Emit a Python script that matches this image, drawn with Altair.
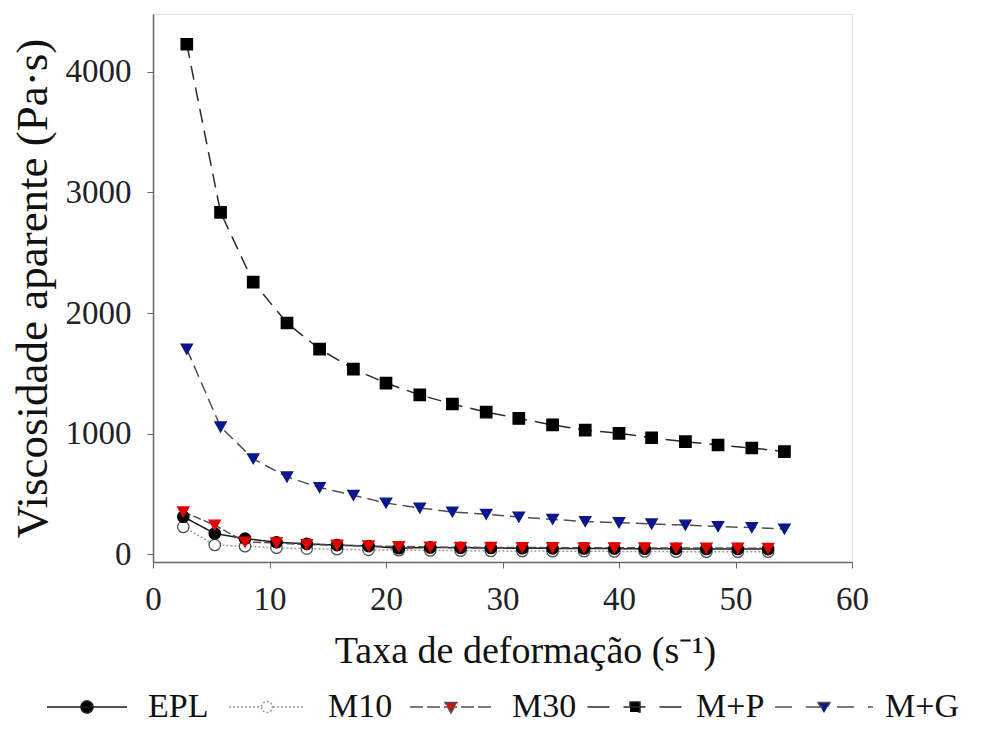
import altair as alt
import pandas as pd

series = ["EPL", "M10", "M30", "M+P", "M+G"]
draw_order = ["M10", "EPL", "M30", "M+G", "M+P"]

# shear rates (s^-1)
x_low = [2.6, 5.3, 7.9, 10.6, 13.2, 15.8, 18.5, 21.1, 23.8, 26.4,
         29.0, 31.7, 34.3, 37.0, 39.6, 42.2, 44.9, 47.5, 50.2, 52.8]
x_high = [2.9, 5.8, 8.6, 11.5, 14.3, 17.2, 20.0, 22.9, 25.7, 28.6,
          31.4, 34.3, 37.1, 40.0, 42.8, 45.7, 48.5, 51.4, 54.2]

# apparent viscosity (Pa.s)
epl = [310, 170, 128, 98, 85, 74, 66, 48, 55, 52, 50, 48, 47, 46, 45, 44, 43, 42, 42, 41]
m10 = [225, 75, 65, 52, 45, 40, 35, 32, 30, 28, 26, 25, 24, 23, 22, 21, 20, 20, 19, 19]
m30 = [350, 240, 100, 92, 78, 74, 68, 62, 58, 56, 55, 54, 53, 52, 52, 51, 50, 50, 49, 48]
mp = [4230, 2835, 2257, 1917, 1701, 1535, 1419, 1320, 1245, 1178,
      1125, 1071, 1029, 1002, 965, 932, 905, 880, 850]
mg = [1700, 1055, 790, 640, 552, 488, 423, 382, 349, 330,
      307, 288, 270, 260, 250, 240, 228, 220, 208]

values = {"EPL": (x_low, epl), "M10": (x_low, m10), "M30": (x_low, m30),
          "M+P": (x_high, mp), "M+G": (x_high, mg)}

rows = []
for s in draw_order:
    xs, ys = values[s]
    for xv, yv in zip(xs, ys):
        rows.append({"serie": s, "marcador": s, "taxa": xv, "visc": yv})
df = pd.DataFrame(rows)

line_colors = {"EPL": "#1a1a1a", "M10": "#9a9a9a", "M30": "#505050", "M+P": "#2a2a2a", "M+G": "#505050"}
line_dash = {"EPL": [1, 0], "M10": [2, 2], "M30": [8, 3], "M+P": [14, 8], "M+G": [12, 6]}
pt_shapes = {"EPL": "circle", "M10": "circle", "M30": "triangle-down", "M+P": "square", "M+G": "triangle-down"}
pt_fill = {"EPL": "#000000", "M10": "#ffffff", "M30": "#e00000", "M+P": "#000000", "M+G": "#0a168c"}
pt_stroke = {"EPL": "#000000", "M10": "#555555", "M30": "#e00000", "M+P": "#000000", "M+G": "#0a168c"}
pt_size = {"EPL": 130, "M10": 130, "M30": 180, "M+P": 200, "M+G": 180}

# legend symbol geometry (custom paths in unit coordinates)
leg_paths = {
    "EPL": "M-0.8,0L0.8,0M-0.12,0A0.12,0.12 0 1,0 0.12,0A0.12,0.12 0 1,0 -0.12,0Z",
    "M10": "M-0.76,0L-0.12,0M0.12,0L0.76,0M-0.11,0A0.11,0.11 0 1,0 0.11,0A0.11,0.11 0 1,0 -0.11,0Z",
    "M30": "M-0.82,0L0.82,0M-0.12,-0.09L0.12,-0.09L0,0.12Z",
    "M+P": "M-0.95,0L0.95,0M-0.1,-0.1L0.1,-0.1L0.1,0.1L-0.1,0.1Z",
    "M+G": "M-0.98,0L0.98,0M-0.12,-0.09L0.12,-0.09L0,0.12Z",
}
leg_fill = {"EPL": "#000000", "M10": "#ffffff", "M30": "#e00000", "M+P": "#000000", "M+G": "#0a168c"}
leg_dash = {"EPL": "[1,0]", "M10": "[2,2]", "M30": "[13,4]", "M+P": "[22,14]", "M+G": "[17,14]"}


def expr_from(d):
    out = None
    for k in series[::-1]:
        v = d[k]
        val = v if v.startswith("[") else "'" + v + "'"
        out = val if out is None else f"datum.value === '{k}' ? {val} : ({out})"
    return out


legend = alt.Legend(
    title=None,
    orient="none",
    legendX=-117,
    legendY=642,
    direction="horizontal",
    columns=5,
    symbolSize=10000,
    symbolStrokeWidth=1.5,
    symbolType=alt.ExprRef(expr=expr_from(leg_paths)),
    symbolFillColor=alt.ExprRef(expr=expr_from(leg_fill)),
    symbolDash=alt.ExprRef(expr=expr_from(leg_dash)),
    symbolOpacity=1,
    labelFont="Liberation Serif",
    labelFontSize=34,
    labelColor="#111111",
    labelOffset=10,
    labelExpr="(datum.value === 'M+P' || datum.value === 'M+G') ? '\u00a0\u00a0' + datum.label : datum.label",
    columnPadding=7,
)

x_enc = alt.X(
    "taxa:Q",
    scale=alt.Scale(domain=[0, 60], nice=False, zero=False),
    axis=alt.Axis(
        values=[0, 10, 20, 30, 40, 50, 60],
        title="Taxa de deformação  (s⁻¹)",
        titleFont="Liberation Serif",
        titleFontSize=38,
        titleFontWeight="normal",
        titleColor="#111111",
        titlePadding=16,
        titleX=372,
        labelFont="Liberation Serif",
        labelFontSize=33,
        labelColor="#222222",
        labelPadding=15,
        labelFlush=False,
        tickSize=6,
        tickColor="#666666",
        domainColor="#666666",
        domainWidth=1.5,
        grid=False,
    ),
)
y_enc = alt.Y(
    "visc:Q",
    scale=alt.Scale(domain=[-66, 4481], nice=False, zero=False),
    axis=alt.Axis(
        values=[0, 1000, 2000, 3000, 4000],
        format="d",
        title="Viscosidade aparente (Pa·s)",
        titleFont="Liberation Serif",
        titleFontSize=45,
        titleFontWeight="normal",
        titleColor="#111111",
        titlePadding=10,
        labelFont="Liberation Serif",
        labelFontSize=33,
        labelColor="#222222",
        labelPadding=16,
        tickSize=6,
        tickColor="#666666",
        domainColor="#666666",
        domainWidth=1.5,
        grid=False,
    ),
)

# colour scale (legend) uses the legend order; the other scales use the drawing order
# so that Vega-Lite does not fold them into the same legend.
lines = alt.Chart(df).mark_line(strokeWidth=1.5).encode(
    x=x_enc,
    y=y_enc,
    color=alt.Color("serie:N", scale=alt.Scale(domain=series, range=[line_colors[s] for s in series]),
                    legend=legend),
    strokeDash=alt.StrokeDash("serie:N", scale=alt.Scale(domain=draw_order, range=[line_dash[s] for s in draw_order]),
                              legend=None),
    detail="serie:N",
)

points = alt.Chart(df).mark_point(filled=False, opacity=1, strokeWidth=1.3).encode(
    x=x_enc,
    y=y_enc,
    shape=alt.Shape("marcador:N", scale=alt.Scale(domain=draw_order, range=[pt_shapes[s] for s in draw_order]), legend=None),
    fill=alt.Fill("marcador:N", scale=alt.Scale(domain=draw_order, range=[pt_fill[s] for s in draw_order]), legend=None),
    stroke=alt.Stroke("marcador:N", scale=alt.Scale(domain=draw_order, range=[pt_stroke[s] for s in draw_order]), legend=None),
    size=alt.Size("marcador:N", scale=alt.Scale(domain=draw_order, range=[pt_size[s] for s in draw_order]), legend=None),
)

chart = alt.layer(lines, points).properties(
    width=699,
    height=548,
    autosize=alt.AutoSizeParams(type="none"),
    padding={"left": 145, "top": 6, "right": 137, "bottom": 161},
).configure_view(stroke="#666666", strokeWidth=1.5).configure(background="white")

chart.save("out.html", embed_options={"renderer": "svg", "actions": False})
